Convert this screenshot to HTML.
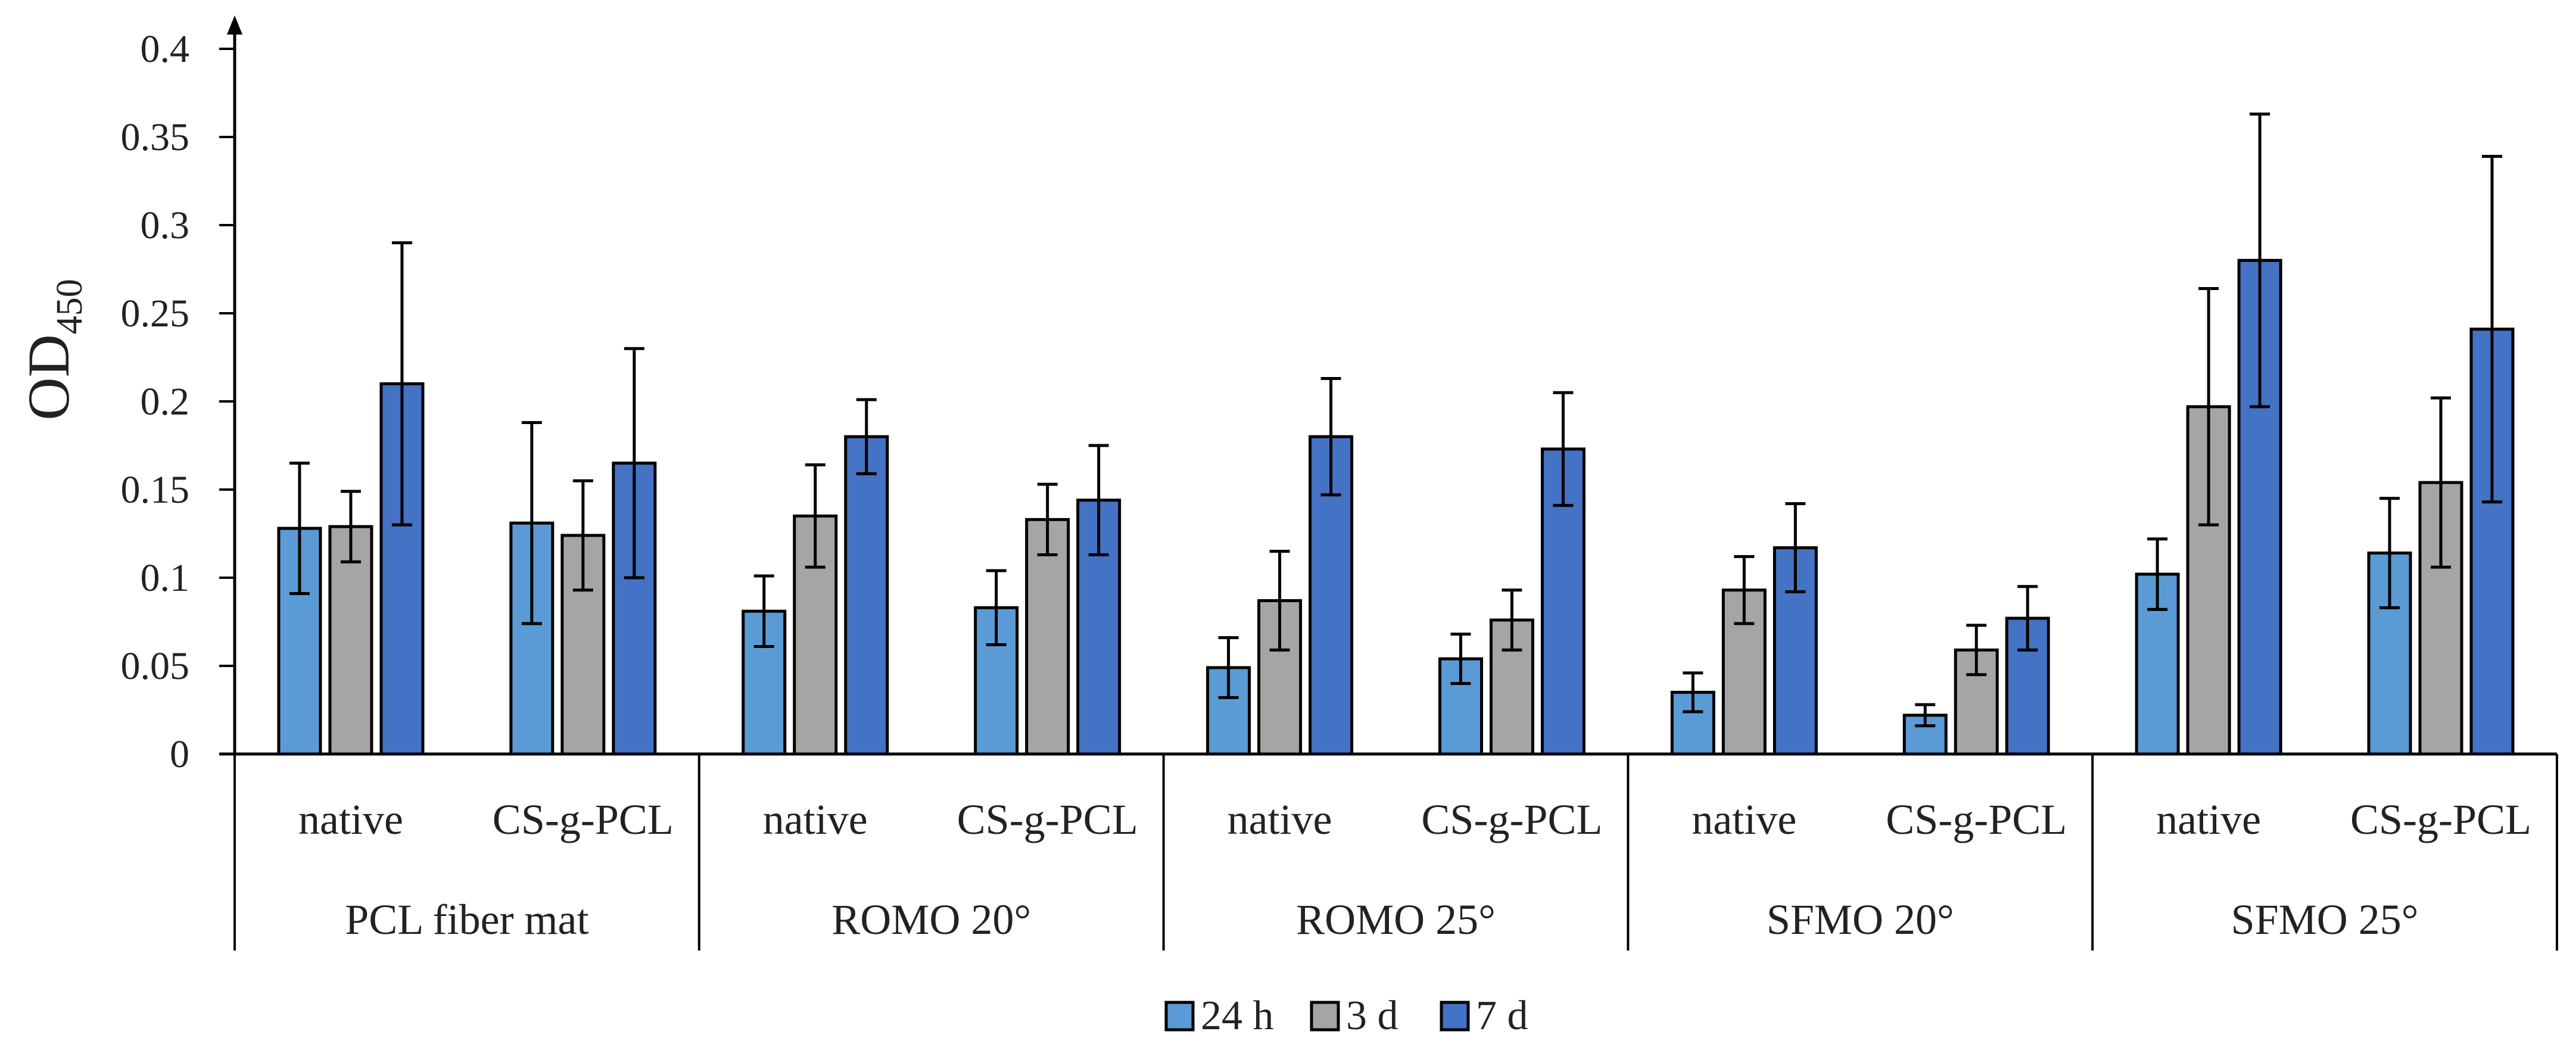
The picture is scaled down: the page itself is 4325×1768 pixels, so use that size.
<!DOCTYPE html>
<html><head><meta charset="utf-8"><style>
html,body{margin:0;padding:0;background:#fff;}
svg{display:block;font-family:"Liberation Serif",serif;}
</style></head><body>
<svg id="chart" width="4325" height="1768" viewBox="0 0 4325 1768" xmlns="http://www.w3.org/2000/svg"></svg>
<script>
const groups = ["PCL fiber mat","ROMO 20°","ROMO 25°","SFMO 20°","SFMO 25°"];
const subcats = ["native","CS-g-PCL"];
const seriesNames = ["24 h","3 d","7 d"];
const yTicks = [0,0.05,0.1,0.15,0.2,0.25,0.3,0.35,0.4];
const yTickLabels = ["0","0.05","0.1","0.15","0.2","0.25","0.3","0.35","0.4"];
const v24h = [0.128,0.131,0.081,0.083,0.049,0.054,0.035,0.022,0.102,0.114];
const v3d  = [0.129,0.124,0.135,0.133,0.087,0.076,0.093,0.059,0.197,0.154];
const v7d  = [0.210,0.165,0.180,0.144,0.180,0.173,0.117,0.077,0.280,0.241];
const e24h = [0.037,0.057,0.020,0.021,0.017,0.014,0.011,0.006,0.020,0.031];
const e3d  = [0.020,0.031,0.029,0.020,0.028,0.017,0.019,0.014,0.067,0.048];
const e7d  = [0.080,0.065,0.021,0.031,0.033,0.032,0.025,0.018,0.083,0.098];

const colors = ["#5B9BD5","#A5A5A5","#4472C4"];
const values = [v24h,v3d,v7d], errs=[e24h,e3d,e7d];
const svg = document.getElementById('chart');
const NS = "http://www.w3.org/2000/svg";
const X0=394, X1=4293, Y0=1266, YTOP=82;
const yScale = v => Y0 - (v/0.4)*(Y0-YTOP);
const groupW = (X1-X0)/groups.length;
const subW = groupW/2;
const pitch=86, barW=70;
function el(tag, attrs, text){const e=document.createElementNS(NS,tag);for(const k in attrs)e.setAttribute(k,attrs[k]);if(text!==undefined)e.textContent=text;svg.appendChild(e);return e;}

let ax=el('line',{x1:X0,y1:Y0,x2:X0,y2:40,stroke:'#000','stroke-width':5});


let arr=el('polygon',{points:`${X0-13},${58} ${X0+13},${58} ${X0},${26}`,fill:'#000'});


yTicks.forEach((t,i)=>{
  const y=yScale(t);
  let tk=el('line',{x1:X0-26,y1:y,x2:X0,y2:y,stroke:'#000','stroke-width':4});
  
  
  let lb=el('text',{x:318,y:y+22,'text-anchor':'end','font-size':66,fill:'#222'},yTickLabels[i]);
  
  
});
let yt=el('text',{transform:'translate(115,587) rotate(-90)','text-anchor':'middle','font-size':100,fill:'#222'});


yt.innerHTML='OD<tspan font-size="62" dy="22">450</tspan>';

let xa=el('line',{x1:X0-26,y1:Y0,x2:X1,y2:Y0,stroke:'#000','stroke-width':5});


for(let g=0;g<=groups.length;g++){
  const x=X0+g*groupW;
  let d=el('line',{x1:x,y1:Y0,x2:x,y2:1596,stroke:'#000','stroke-width':4});
  
  
}
groups.forEach((gname,g)=>{
  let gl=el('text',{x:X0+g*groupW+groupW/2,y:1568,'text-anchor':'middle','font-size':72,fill:'#222'},gname);
  
  
  subcats.forEach((s,si)=>{
    const cx=X0+g*groupW+si*subW+subW/2;
    let sl=el('text',{x:cx,y:1400,'text-anchor':'middle','font-size':72,fill:'#222'},s);
    
    
    const idx=g*2+si;
    for(let k=0;k<3;k++){
      const bx=cx+(k-1)*pitch;
      const v=values[k][idx], e=errs[k][idx];
      const y=yScale(v);
      let b=el('rect',{x:bx-barW/2,y:y,width:barW,height:Y0-y,fill:colors[k],stroke:'#000','stroke-width':5});
      
      
      const yh=yScale(v+e), yl=yScale(v-e);
      let eb=el('path',{d:`M${bx},${yh}V${yl}M${bx-17},${yh}H${bx+17}M${bx-17},${yl}H${bx+17}`,stroke:'#000','stroke-width':5,fill:'none'});
      
      
    }
  });
});
const legX=[1958,2202,2420];
seriesNames.forEach((n,k)=>{
  let sw=el('rect',{x:legX[k],y:1683,width:45,height:46,fill:colors[k],stroke:'#000','stroke-width':5});
  
  
  let lt=el('text',{x:legX[k]+58,y:1728,'font-size':70,fill:'#222'},n);
  
  
});
</script>
</body></html>
